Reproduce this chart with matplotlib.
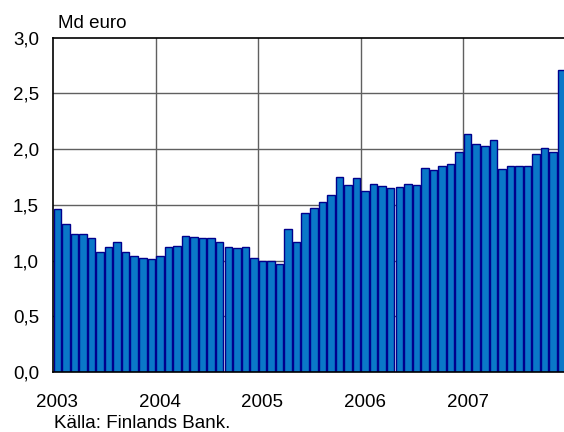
import matplotlib
matplotlib.use("Agg")
import matplotlib.pyplot as plt
import numpy as np

plt.rcParams['font.family'] = ['Liberation Sans', 'DejaVu Sans']

years = ["2003", "2004", "2005", "2006", "2007"]
values = [
    1.46, 1.33, 1.24, 1.24, 1.20, 1.08, 1.12, 1.17, 1.08, 1.04, 1.02, 1.01,
    1.04, 1.12, 1.13, 1.22, 1.21, 1.20, 1.20, 1.17, 1.12, 1.11, 1.12, 1.02,
    1.00, 1.00, 0.97, 1.28, 1.17, 1.43, 1.47, 1.53, 1.59, 1.75, 1.68, 1.74,
    1.62, 1.69, 1.67, 1.65, 1.66, 1.69, 1.68, 1.83, 1.81, 1.85, 1.87, 1.97,
    2.14, 2.05, 2.03, 2.08, 1.82, 1.85, 1.85, 1.85, 1.96, 2.01, 1.97, 2.71,
]
yticks = [0.0, 0.5, 1.0, 1.5, 2.0, 2.5, 3.0]
ytick_labels = ["0,0", "0,5", "1,0", "1,5", "2,0", "2,5", "3,0"]

FS = 13.5
W, H = 564, 432
fig = plt.figure(figsize=(W / 100, H / 100), dpi=100)
ax = fig.add_axes([53 / W, (H - 372) / H, 513 / W, (372 - 37.7) / H])

x = np.arange(len(values))
ax.bar(x, values, width=0.88, color="#0A78C8", edgecolor="#00008C",
       linewidth=1.0, zorder=2)

ax.set_xlim(-0.5, len(values) - 0.5)
ax.set_ylim(0, 3.0)

ax.set_yticks(yticks)
ax.set_yticklabels(ytick_labels)
ax.set_xticks([12 * i for i in range(len(years))])
ax.set_xticklabels(years)
ax.tick_params(axis='both', length=0, labelsize=FS)
ax.tick_params(axis='y', pad=10)
ax.tick_params(axis='x', pad=15.5)

for yv in yticks[1:-1]:
    ax.axhline(yv, color="#606060", linewidth=1.0, zorder=1)
for i in range(1, len(years)):
    ax.axvline(12 * i - 0.5, color="#606060", linewidth=1.0, zorder=1)

for side in ['top', 'left', 'bottom']:
    ax.spines[side].set_color('black')
    ax.spines[side].set_linewidth(1.2)
ax.spines['right'].set_visible(False)

fig.text(58 / W, 1 - 28 / H, "Md euro", fontsize=FS, ha='left', va='baseline')
fig.text(54 / W, 1 - 428.5 / H, "Källa: Finlands Bank.", fontsize=FS,
         ha='left', va='baseline')

fig.savefig("out.png", dpi=100)
